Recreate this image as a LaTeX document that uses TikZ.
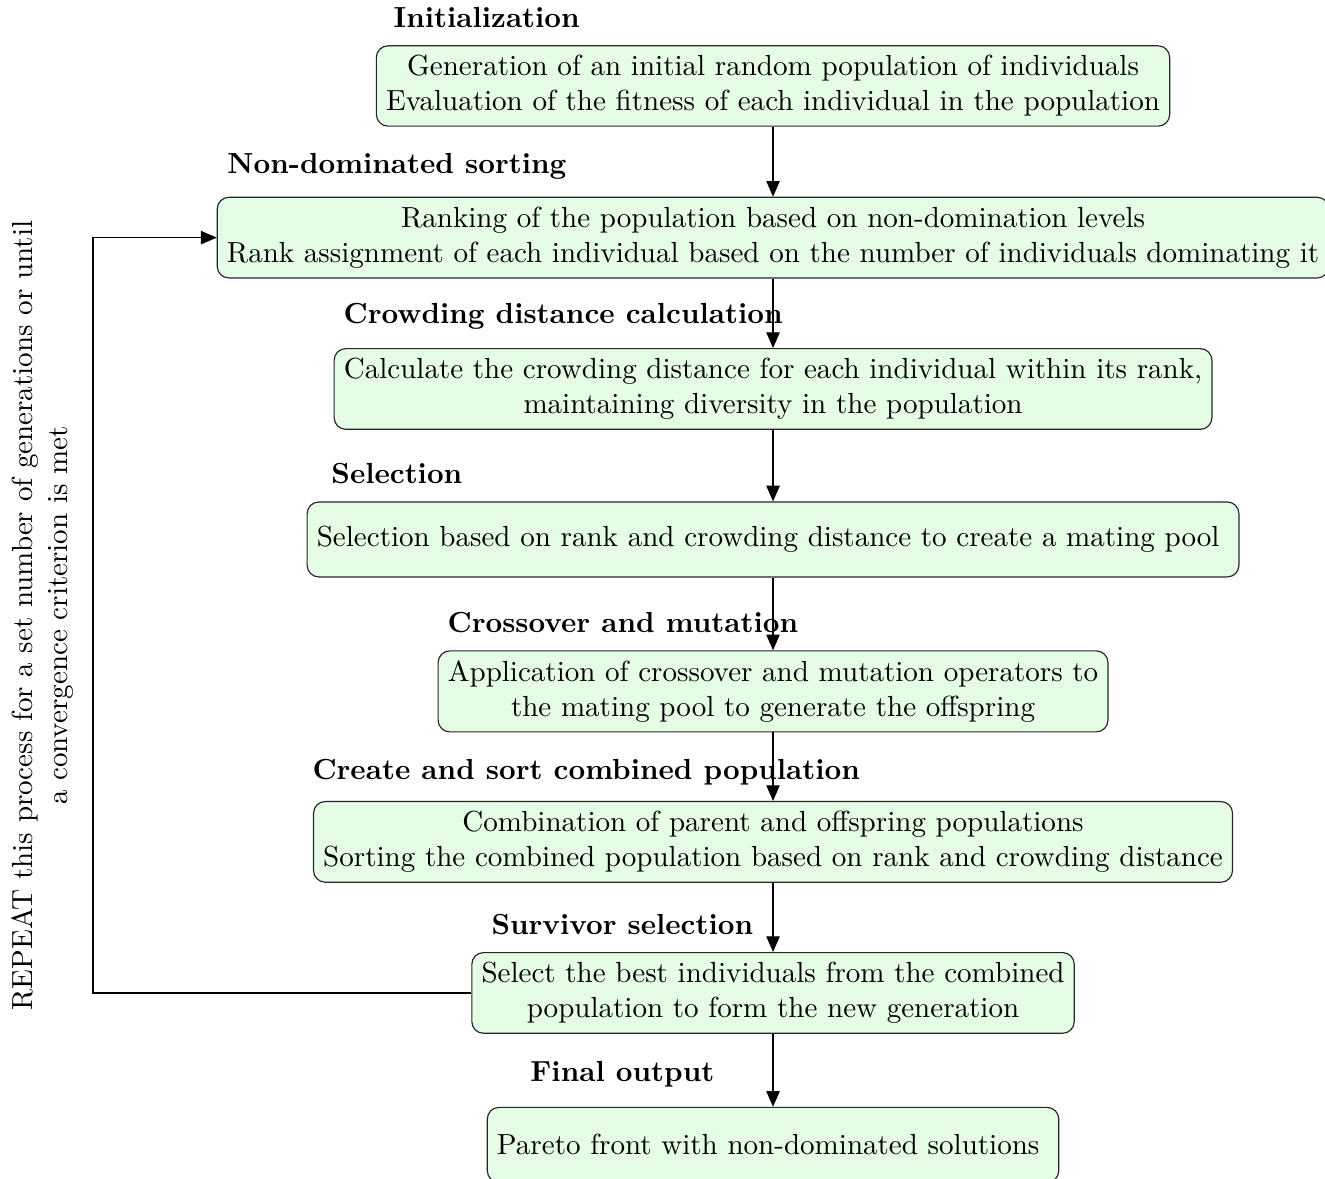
\documentclass[tikz,border=0pt]{standalone}
\usetikzlibrary{arrows.meta}

\definecolor{boxfill}{RGB}{228,253,228}

\tikzset{
  stagebox/.style={draw=black!85, fill=boxfill, rounded corners=4pt, inner sep=3.33pt},
  twoline/.style={stagebox, align=center},
  oneline/.style={stagebox, minimum height=25.8pt},
  heading/.style={font=\bfseries, anchor=base west, inner sep=0pt},
  flow/.style={-{Triangle[length=5.4pt,width=4.6pt]}, line width=0.4pt}
}

\begin{document}
\begin{tikzpicture}[x=1pt,y=1pt]
  \useasboundingbox (0,0) rectangle (456.1,-405.8);

  % stages of the algorithm
  \node[twoline] (b1) at (266.1,-29.6)
    {Generation of an initial random population of individuals\\
     Evaluation of the fitness of each individual in the population};
  \node[twoline] (b2) at (266.1,-81.8)
    {Ranking of the population based on non-domination levels\\
     Rank assignment of each individual based on the number of individuals dominating it};
  \node[twoline] (b3) at (266.1,-133.9)
    {Calculate the crowding distance for each individual within its rank,\\
     maintaining diversity in the population};
  \node[oneline] (b4) at (266.1,-185.7)
    {Selection based on rank and crowding distance to create a mating pool\rule{3.33pt}{0pt}};
  \node[twoline] (b5) at (266.1,-238.0)
    {Application of crossover and mutation operators to\\
     the mating pool to generate the offspring};
  \node[twoline] (b6) at (266.1,-289.8)
    {Combination of parent and offspring populations\\
     Sorting the combined population based on rank and crowding distance};
  \node[twoline] (b7) at (266.1,-341.8)
    {Select the best individuals from the combined\\
     population to form the new generation};
  \node[oneline] (b8) at (266.1,-394.1)
    {Pareto front with non-dominated solutions\rule{3.33pt}{0pt}};

  % stage headings
  \node[heading] (h1) at (135.3,-9.3)   {Initialization};
  \node[heading] (h2) at (78.1,-59.6)   {Non-dominated sorting};
  \node[heading] (h3) at (118.1,-111.2) {Crowding distance calculation};
  \node[heading] (h4) at (113.9,-166.3) {Selection};
  \node[heading] (h5) at (153.9,-217.6) {Crossover and mutation};
  \node[heading] (h6) at (107.4,-268.2) {Create and sort combined population};
  \node[heading] (h7) at (169.0,-321.7) {Survivor selection};
  \node[heading] (h8) at (182.4,-372.3) {Final output};

  % main flow
  \draw[flow] (b1.south) -- (b2.north);
  \draw[flow] (b2.south) -- (b3.north);
  \draw[flow] (b3.south) -- (b4.north);
  \draw[flow] (b4.south) -- (b5.north);
  \draw[flow] (b5.south) -- (b6.north);
  \draw[flow] (b6.south) -- (b7.north);
  \draw[flow] (b7.south) -- (b8.north);

  % repeat loop
  \coordinate (loopx) at (32.0,0);
  \draw[flow] (b7.west) -- (b7.west -| loopx) -- (b2.west -| loopx) -- (b2.west);

  \node[rotate=90, align=center, inner sep=0pt] (rep) at (14.8,-211.9)
    {REPEAT this process for a set number of generations or until\\
     a convergence criterion is met};
\end{tikzpicture}
\end{document}
